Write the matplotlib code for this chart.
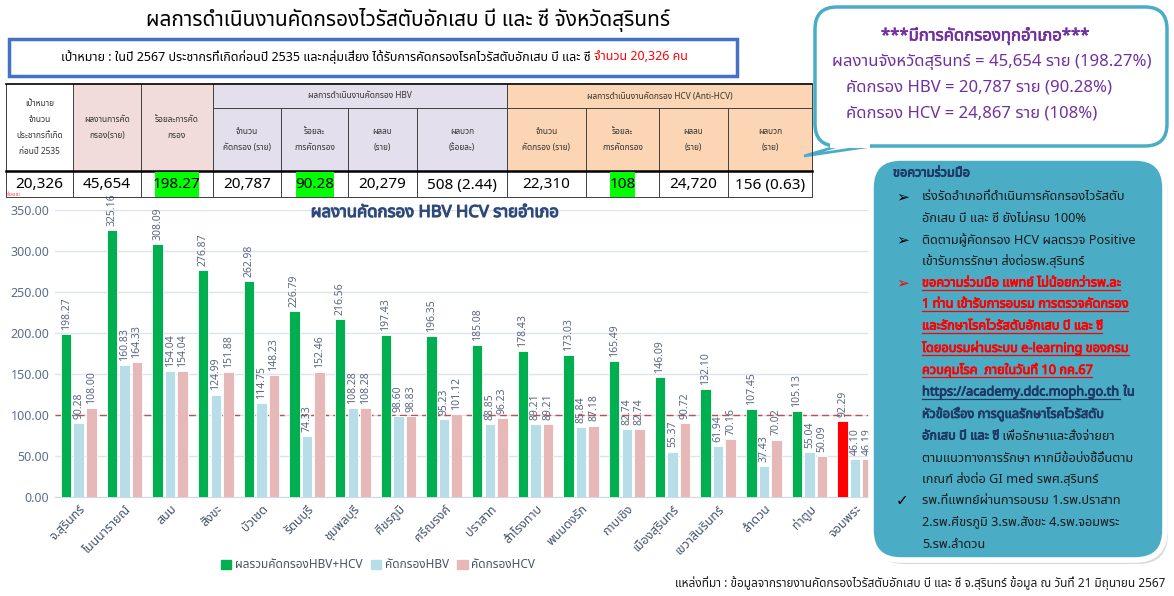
import numpy as np
import matplotlib
matplotlib.use('Agg')
import matplotlib.pyplot as plt
import matplotlib.patheffects as pe
from matplotlib import font_manager
from matplotlib.ft2font import FT2Font
from matplotlib.patches import FancyBboxPatch, Rectangle, Polygon
from matplotlib.lines import Line2D


# data
districts = ['จ.สุรินทร์', 'โนนนารายณ์', 'สนม', 'สังขะ', 'บัวเชด', 'รัตนบุรี', 'ชุมพลบุรี',
             'ศีขรภูมิ', 'ศรีณรงค์', 'ปราสาท', 'สำโรงทาบ', 'พนมดงรัก', 'กาบเชิง',
             'เมืองสุรินทร์', 'เขวาสินรินทร์', 'ลำดวน', 'ท่าตูม', 'จอมพระ']
total_pct = [198.27, 325.16, 308.09, 276.87, 262.98, 226.79, 216.56, 197.43, 196.35,
             185.08, 178.43, 173.03, 165.49, 146.09, 132.10, 107.45, 105.13, 92.29]
hbv_pct = [90.28, 160.83, 154.04, 124.99, 114.75, 74.33, 108.28, 98.60, 95.23,
           88.85, 89.21, 85.84, 82.74, 55.37, 61.94, 37.43, 55.04, 46.10]
hcv_pct = [108.00, 164.33, 154.04, 151.88, 148.23, 152.46, 108.28, 98.83, 101.12,
           96.23, 89.21, 87.18, 82.74, 90.72, 70.16, 70.02, 50.09, 46.19]
target_pct = 100

table_values = ['20,326', '45,654', '198.27', '20,787', '90.28', '20,279', '508 (2.44)',
                '22,310', '108', '24,720', '156 (0.63)']
highlight_cols = [2, 4, 8]
table_heads = ['เป้าหมาย\nจำนวน\nประชากรที่เกิด\nก่อนปี 2535', 'ผลงานการคัด\nกรอง(ราย)',
               'ร้อยละการคัด\nกรอง',
               'จำนวน\nคัดกรอง (ราย)', 'ร้อยละ\nการคัดกรอง', 'ผลลบ\n(ราย)', 'ผลบวก\n(ร้อยละ)',
               'จำนวน\nคัดกรอง (ราย)', 'ร้อยละ\nการคัดกรอง', 'ผลลบ\n(ราย)', 'ผลบวก\n(ราย)']

summary_lines = ['***มีการคัดกรองทุกอำเภอ***',
                 'ผลงานจังหวัดสุรินทร์ = 45,654 ราย (198.27%)',
                 'คัดกรอง HBV = 20,787 ราย (90.28%)',
                 'คัดกรอง HCV = 24,867 ราย (108%)']

GREEN = '#00B050'
LBLUE = '#B7DEE8'
PINK = '#E6B9B8'
TEAL = '#4BACC6'
NAVY = '#1F3864'


def find_thai_font():
    prefs = ['Tahoma', 'Leelawadee UI', 'Leelawadee', 'Noto Sans Thai', 'Noto Sans Thai UI',
             'Sarabun', 'Loma', 'Garuda', 'Waree', 'Umpush', 'Norasi', 'Kinnari']
    found = {}
    for f in font_manager.fontManager.ttflist:
        try:
            ft = FT2Font(f.fname)
            if ft.get_char_index(ord('ก')):
                found.setdefault(f.name, f.fname)
        except Exception:
            pass
    for p in prefs:
        if p in found:
            return p
    return next(iter(found), 'DejaVu Sans')


def fake_bold(color, w=0.6):
    return [pe.withStroke(linewidth=w, foreground=color)]


THAI = find_thai_font()
plt.rcParams['font.family'] = [THAI, 'DejaVu Sans']

W, H = 1174, 596
fig = plt.figure(figsize=(W / 100, H / 100), dpi=100)
fig.patch.set_facecolor('white')

# chart
ax = fig.add_axes([55 / W, 1 - 497 / H, (878 - 55) / W, (497 - 210) / H], zorder=1)
x = np.arange(len(districts))
bw = 0.23
off = 0.275
colors_total = [GREEN if v >= target_pct else '#FF0000' for v in total_pct]
b1 = ax.bar(x - off, total_pct, bw, color=colors_total, edgecolor='white', linewidth=0.6, zorder=3)
b2 = ax.bar(x, hbv_pct, bw, color=LBLUE, edgecolor='white', linewidth=0.6, zorder=3)
b3 = ax.bar(x + off, hcv_pct, bw, color=PINK, edgecolor='white', linewidth=0.6, zorder=3)
for bars, vals in [(b1, total_pct), (b2, hbv_pct), (b3, hcv_pct)]:
    for r, v in zip(bars, vals):
        ax.text(r.get_x() + r.get_width() / 2, v + 5, f'{v:.2f}', rotation=90,
                ha='center', va='bottom', fontsize=7.5, color='#5B6680', zorder=4,
                clip_on=False)
ax.axhline(target_pct, color='#C0504D', lw=1, ls=(0, (5, 3)), zorder=2)
ax.set_ylim(0, 350)
ax.set_xlim(-0.52, 17.5)
ax.set_yticks(np.arange(0, 351, 50))
ax.set_yticklabels([f'{v:.2f}' for v in np.arange(0, 351, 50)])
ax.yaxis.grid(True, color='#DCE3EF', lw=1, zorder=0)
ax.set_axisbelow(True)
for s in ['top', 'right', 'left']:
    ax.spines[s].set_visible(False)
ax.spines['bottom'].set_color('#D0D7E5')
ax.tick_params(axis='y', length=0, labelsize=9, labelcolor='#5B6E8C', pad=4)
ax.tick_params(axis='x', length=0, labelsize=9, labelcolor='#44546A', pad=4)
ax.set_xticks(x)
ax.set_xticklabels(districts, rotation=45, ha='right', rotation_mode='anchor')
ax.set_facecolor('none')

fig.text(435 / W, 1 - 213 / H, 'ผลงานคัดกรอง HBV HCV รายอำเภอ', ha='center', va='center',
         fontsize=12, color='#2F4A7A', path_effects=fake_bold('#2F4A7A', 0.8))

handles = [Rectangle((0, 0), 1, 1, color=GREEN), Rectangle((0, 0), 1, 1, color=LBLUE),
           Rectangle((0, 0), 1, 1, color=PINK)]
fig.legend(handles, ['ผลรวมคัดกรองHBV+HCV', 'คัดกรองHBV', 'คัดกรองHCV'], loc='center',
           bbox_to_anchor=(378 / W, 1 - 565 / H), ncol=3, frameon=False, fontsize=8.5,
           handlelength=0.9, handleheight=0.9, handletextpad=0.3, columnspacing=0.7,
           labelcolor='#44546A')

# overlay in pixel coordinates
ov = fig.add_axes([0, 0, 1, 1], zorder=5)
ov.set_xlim(0, W)
ov.set_ylim(H, 0)
ov.axis('off')
ov.patch.set_alpha(0)
R = fig.canvas.get_renderer()


def put(x0, y0, parts, **kw):
    # consecutive text pieces, returns list of (text, bbox)
    out = []
    for s, st in parts:
        st = dict(st)
        if st.pop('bold', False):
            st['path_effects'] = fake_bold(st['color'], 0.6)
        t = ov.text(x0, y0, s, va='center', ha='left', **kw, **st)
        bb = t.get_window_extent(renderer=R)
        out.append((t, bb))
        x0 += bb.width
    return out


def underline(items, color):
    for t, bb in items:
        yy = H - bb.y0 + 0.5
        ov.add_line(Line2D([bb.x0, bb.x1], [yy, yy], color=color, lw=0.9))


ov.text(408, 20, 'ผลการดำเนินงานคัดกรองไวรัสตับอักเสบ บี และ ซี จังหวัดสุรินทร์', ha='center',
        va='center', fontsize=15, color='black')
ov.add_patch(Rectangle((9, 39), 728, 37, fill=False, ec='#4472C4', lw=2.5))
p1 = 'เป้าหมาย : ในปี 2567 ประชากรที่เกิดก่อนปี 2535 และกลุ่มเสี่ยง ได้รับการคัดกรองโรคไวรัสตับอักเสบ บี และ ซี '
p2 = 'จำนวน 20,326 คน'
t1 = ov.text(0, 0, p1, fontsize=9)
t2 = ov.text(0, 0, p2, fontsize=9)
w1 = t1.get_window_extent(renderer=R).width
w2 = t2.get_window_extent(renderer=R).width
t1.remove()
t2.remove()
put(374 - (w1 + w2) / 2, 57, [(p1, {'color': 'black'}), (p2, {'color': '#FF0000'})], fontsize=9)

# table
cx = [6, 73, 141, 213, 281, 348, 417, 507, 586, 659, 728, 812]
ty = [84, 108, 171, 197]
fills = ['white', '#F2DCDB', '#F2DCDB'] + ['#E4DFEC'] * 4 + ['#FCD5B4'] * 4
for i in range(11):
    top = ty[0] if i < 3 else ty[1]
    ov.add_patch(Rectangle((cx[i], top), cx[i + 1] - cx[i], ty[2] - top, fc=fills[i], ec='none'))
    ov.text((cx[i] + cx[i + 1]) / 2, (top + ty[2]) / 2, table_heads[i], ha='center', va='center',
            fontsize=6, color='#333333', linespacing=2.0)
    ov.text((cx[i] + cx[i + 1]) / 2, (ty[2] + ty[3]) / 2 + 1, table_values[i], ha='center',
            va='center', fontsize=11, color='black', zorder=4)
ov.add_patch(Rectangle((cx[3], ty[0]), cx[7] - cx[3], ty[1] - ty[0], fc='#E4DFEC', ec='none'))
ov.add_patch(Rectangle((cx[7], ty[0]), cx[11] - cx[7], ty[1] - ty[0], fc='#FCD5B4', ec='none'))
ov.text((cx[3] + cx[7]) / 2, (ty[0] + ty[1]) / 2, 'ผลการดำเนินงานคัดกรอง HBV', ha='center',
        va='center', fontsize=6, color='#333333')
ov.text((cx[7] + cx[11]) / 2, (ty[0] + ty[1]) / 2, 'ผลการดำเนินงานคัดกรอง HCV (Anti-HCV)',
        ha='center', va='center', fontsize=6, color='#333333')
for i in highlight_cols:
    mid = (cx[i] + cx[i + 1]) / 2
    tw = len(table_values[i]) * 6.8
    ov.add_patch(Rectangle((mid - tw / 2 - 2, ty[2] + 1), tw + 4, ty[3] - ty[2] - 1,
                           fc='#00FF00', ec='none', zorder=3))
lc = '#404040'
for i, xx in enumerate(cx):
    top = ty[0] if i in (0, 1, 2, 3, 7, 11) else ty[1]
    ov.add_line(Line2D([xx, xx], [top, ty[3]], color=lc, lw=0.7))
ov.add_line(Line2D([cx[0], cx[-1]], [ty[0], ty[0]], color='black', lw=1.2))
ov.add_line(Line2D([cx[3], cx[-1]], [ty[1], ty[1]], color=lc, lw=0.7))
ov.add_line(Line2D([cx[0], cx[-1]], [ty[2], ty[2]], color='black', lw=1.8))
ov.add_line(Line2D([cx[0], cx[-1]], [ty[3], ty[3]], color=lc, lw=0.7))
ov.text(7, 195, 'ร้อยละ', fontsize=4, color='#FF4040', va='center')

# summary callout
ov.add_patch(Polygon([[838, 146], [804, 156], [872, 146]], closed=True, fc='white', ec=TEAL, lw=2))
ov.add_patch(FancyBboxPatch((815, 7), 352, 139, boxstyle='round,pad=0,rounding_size=22',
                            fc='white', ec=TEAL, lw=2.5))
ov.add_patch(Rectangle((830, 140), 40, 8, fc='white', ec='none'))
ov.text(985, 36, summary_lines[0], ha='center', va='center', fontsize=12, color='#7030A0',
        path_effects=fake_bold('#7030A0', 0.5))
ov.text(992, 62, summary_lines[1], ha='center', va='center', fontsize=12, color='#7030A0')
ov.text(846, 88, summary_lines[2], ha='left', va='center', fontsize=12, color='#7030A0')
ov.text(846, 113, summary_lines[3], ha='left', va='center', fontsize=12, color='#7030A0')

# cooperation box
ov.add_patch(FancyBboxPatch((874, 162), 294, 402, boxstyle='round,pad=0,rounding_size=30',
                            fc='#9A9A9A', ec='none', alpha=0.35))
ov.add_patch(FancyBboxPatch((871, 158), 294, 402, boxstyle='round,pad=0,rounding_size=30',
                            fc=TEAL, ec='white', lw=4))
fs = 9.2
tx = 922
ov.text(893, 173, 'ขอความร่วมมือ', fontsize=fs, color=NAVY, va='center',
        path_effects=fake_bold(NAVY, 0.6))
K = '#1A1A1A'
RED = '#FF0000'
box_lines = [
    (197, '➢', 'black', [('เร่งรัดอำเภอที่ดำเนินการคัดกรองไวรัสตับ', {'color': K})], False),
    (218, None, None, [('อักเสบ บี และ ซี ยังไม่ครบ 100%', {'color': K})], False),
    (240, '➢', 'black', [('ติดตามผู้คัดกรอง HCV ผลตรวจ Positive', {'color': K})], False),
    (261, None, None, [('เข้ารับการรักษา ส่งต่อรพ.สุรินทร์', {'color': K})], False),
    (283, '➢', RED, [('ขอความร่วมมือ แพทย์ ไม่น้อยกว่ารพ.ละ', {'color': RED, 'bold': True})], True),
    (304, None, None, [('1 ท่าน เข้ารับการอบรม การตรวจคัดกรอง', {'color': RED, 'bold': True})], True),
    (326, None, None, [('และรักษาโรคไวรัสตับอักเสบ บี และ ซี', {'color': RED, 'bold': True})], True),
    (348, None, None, [('โดยอบรมผ่านระบบ e-learning ของกรม', {'color': RED, 'bold': True})], True),
    (370, None, None, [('ควบคุมโรค  ภายในวันที่ 10 กค.67', {'color': RED, 'bold': True})], True),
    (392, None, None, [('https://academy.ddc.moph.go.th', {'color': NAVY, 'bold': True}),
                       (' ใน', {'color': NAVY, 'bold': True})], 'first'),
    (414, None, None, [('หัวข้อเรื่อง การดูแลรักษาโรคไวรัสตับ', {'color': NAVY, 'bold': True})], False),
    (436, None, None, [('อักเสบ บี และ ซี', {'color': NAVY, 'bold': True}),
                       (' เพื่อรักษาและสั่งจ่ายยา', {'color': K})], False),
    (458, None, None, [('ตามแนวทางการรักษา หากมีข้อบ่งชี้อื่นตาม', {'color': K})], False),
    (479, None, None, [('เกณฑ์ ส่งต่อ GI med รพศ.สุรินทร์', {'color': K})], False),
    (501, '✓', 'black', [('รพ.ที่แพทย์ผ่านการอบรม 1.รพ.ปราสาท', {'color': K})], False),
    (523, None, None, [('2.รพ.ศีขรภูมิ 3.รพ.สังขะ 4.รพ.จอมพระ', {'color': K})], False),
    (545, None, None, [('5.รพ.ลำดวน', {'color': K})], False),
]
for yy, bullet, bc, parts, ul in box_lines:
    if bullet:
        ov.text(896, yy, bullet, fontsize=11, color=bc, va='center', family='DejaVu Sans')
    items = put(tx, yy, parts, fontsize=fs)
    if ul is True:
        underline(items, RED)
    elif ul == 'first':
        underline(items[:1], NAVY)

ov.text(1165, 583, 'แหล่งที่มา : ข้อมูลจากรายงานคัดกรองไวรัสตับอักเสบ บี และ ซี จ.สุรินทร์ ข้อมูล ณ วันที่ 21 มิถุนายน 2567',
        ha='right', va='center', fontsize=8.5, color=K)

fig.savefig('out.png', dpi=100)
